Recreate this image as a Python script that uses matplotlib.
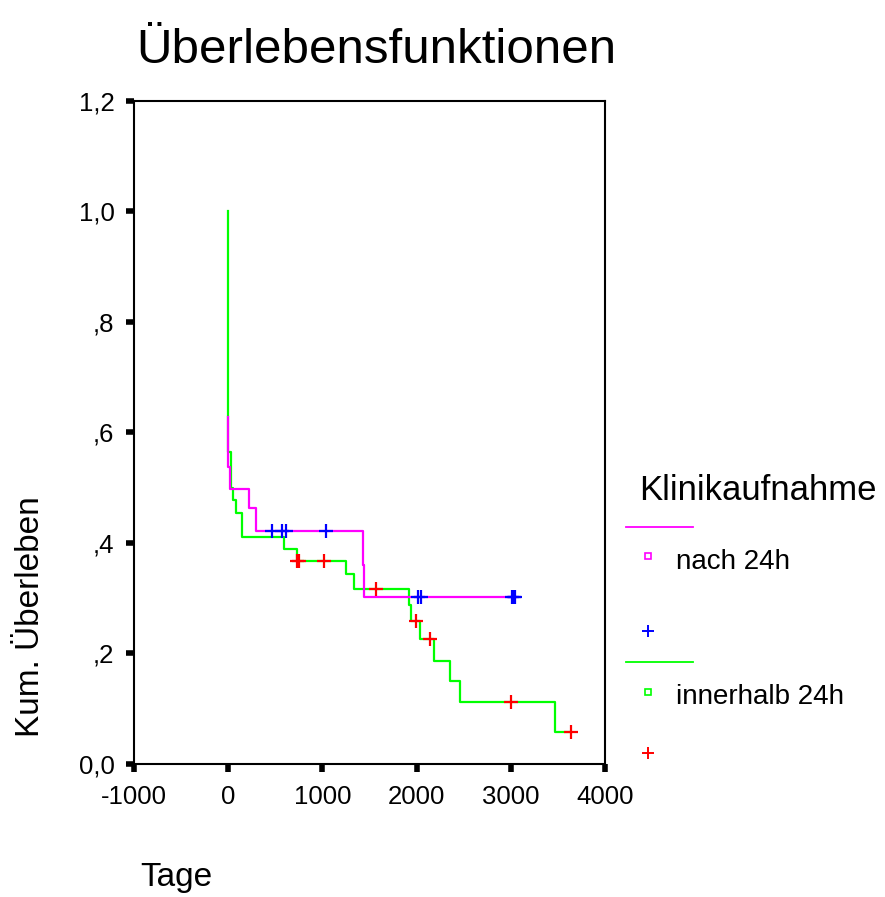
import numpy as np
import matplotlib
matplotlib.use("Agg")
import matplotlib.pyplot as plt

plt.rcParams['font.family'] = ['Liberation Sans', 'DejaVu Sans']

# Kaplan-Meier steps, group "nach 24h"
t_nach = [0, 0, 21, 216, 298, 1428, 1443, 3055]
s_nach = [0.628, 0.538, 0.498, 0.463, 0.422, 0.360, 0.303, 0.303]
# censored cases, group "nach 24h"
c_nach = [465, 571, 613, 1042, 2016, 2052, 3010, 3030, 3050]

# Kaplan-Meier steps, group "innerhalb 24h"
t_inner = [0, 0, 32, 56, 82, 146, 588, 730, 1251, 1339, 1917, 1938,
           2041, 2190, 2360, 2466, 3465, 3636]
s_inner = [1.0, 0.564, 0.500, 0.478, 0.454, 0.411, 0.390, 0.368, 0.344,
           0.317, 0.288, 0.259, 0.227, 0.186, 0.150, 0.112, 0.057, 0.057]
c_inner = [730, 755, 1020, 1570, 1995, 2147, 2998, 3636]

x_ticks = [-1000, 0, 1000, 2000, 3000, 4000]
y_ticks = [0.0, 0.2, 0.4, 0.6, 0.8, 1.0, 1.2]
y_labels = ['0,0', ',2', ',4', ',6', ',8', '1,0', '1,2']


def surv_at(times, surv, t):
    idx = np.searchsorted(times, t, side='right') - 1
    return np.asarray(surv)[idx]


fig = plt.figure(figsize=(8.85, 8.97), dpi=100)
ax = fig.add_axes([0.1514, 0.1483, 0.5322, 0.7391])

magenta = '#ff00ff'
green = '#00ff00'

ax.step(t_inner, s_inner, where='post', color=green, lw=1.6, zorder=2)
ax.step(t_nach, s_nach, where='post', color=magenta, lw=1.6, zorder=3)
ax.plot(c_nach, surv_at(t_nach, s_nach, c_nach), '+', color='#0000ff',
        ms=9.5, mew=1.6, ls='none', zorder=4)
ax.plot(c_inner, surv_at(t_inner, s_inner, c_inner), '+', color='#ff0000',
        ms=9.5, mew=1.6, ls='none', zorder=4)

ax.set_xlim(-1000, 4000)
ax.set_ylim(0, 1.2)
ax.set_xticks(x_ticks)
ax.set_xticklabels([str(v) for v in x_ticks])
ax.set_yticks(y_ticks)
ax.set_yticklabels(y_labels)
ax.tick_params(axis='both', direction='out', length=6, width=4,
               labelsize=18.5, color='black')
ax.tick_params(axis='y', pad=8)
ax.tick_params(axis='x', pad=9)
for sp in ax.spines.values():
    sp.set_linewidth(1.5)

fig.text(0.154, 0.93, 'Überlebensfunktionen', fontsize=35.5, va='baseline', ha='left')
fig.text(0.034, 1 - 616.5 / 897, 'Kum. Überleben', fontsize=24, rotation=90,
         ha='center', va='center')
fig.text(176 / 885, 1 - 877 / 897, 'Tage', fontsize=24, ha='center', va='center')

# legend drawn by hand in figure pixels
def fx(px):
    return px / 885


def fy(py):
    return 1 - py / 897


fig.text(fx(639), fy(490), 'Klinikaufnahme', fontsize=25, ha='left', va='center')
fig.add_artist(plt.Line2D([fx(626), fx(693)], [fy(527), fy(527)], color=magenta, lw=1.3))
fig.add_artist(plt.Line2D([fx(648)], [fy(556)], marker='s', ms=5, mfc='none',
                          mec=magenta, mew=1.2))
fig.text(fx(676), fy(562), 'nach 24h', fontsize=20, ha='left', va='center')
fig.add_artist(plt.Line2D([fx(648)], [fy(631)], marker='+', ms=9, mew=1.4, color='#0000ff'))
fig.add_artist(plt.Line2D([fx(626), fx(693)], [fy(662), fy(662)], color=green, lw=1.3))
fig.add_artist(plt.Line2D([fx(648)], [fy(692)], marker='s', ms=5, mfc='none',
                          mec=green, mew=1.2))
fig.text(fx(676), fy(697), 'innerhalb 24h', fontsize=20, ha='left', va='center')
fig.add_artist(plt.Line2D([fx(648)], [fy(753)], marker='+', ms=9, mew=1.4, color='#ff0000'))

fig.savefig('out.png', dpi=100)
